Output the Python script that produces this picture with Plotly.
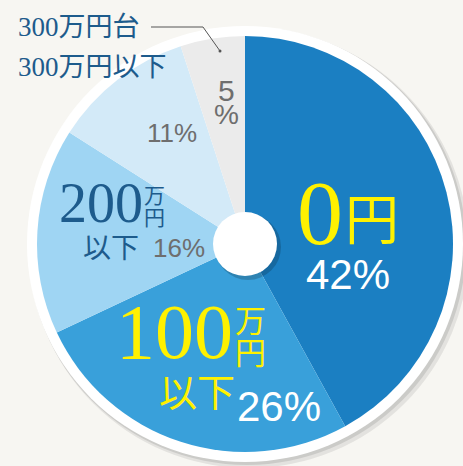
import plotly.graph_objects as go

# ---- data ----
categories = ["0円", "100万円以下", "200万円以下", "300万円以下", "300万円台"]
shares = [42, 26, 16, 11, 5]
pct_labels = ["42%", "26%", "16%", "11%", "5%"]
slice_colors = ["#1b7fc2", "#39a0da", "#9fd5f3", "#d3eaf8", "#ebebeb"]

W, H = 463, 466
CX, CY, R = 245, 244, 208

BG = "#f7f6f2"
YEL = "#fff100"
DBLUE = "#1d5b8c"
GRAY = "#6e6e6e"
SERIF = "Liberation Serif, Noto Sans CJK JP"
CJK = "Noto Sans CJK JP"
SANS = "Liberation Sans, Arial, sans-serif"

fig = go.Figure()

fig.add_trace(go.Pie(
    labels=categories, values=shares, sort=False, direction="clockwise", rotation=0,
    marker=dict(colors=slice_colors, line=dict(width=0)),
    textinfo="none", hoverinfo="skip", showlegend=False,
    domain=dict(x=[(CX - R) / W, (CX + R) / W], y=[(H - CY - R) / H, (H - CY + R) / H]),
))

shapes = []
# outer white ring + soft shadow
for off, col, rr in [(4, "rgba(0,0,0,0.08)", 220), (2, "rgba(0,0,0,0.10)", 219), (0, "white", 218)]:
    shapes.append(dict(type="circle", xref="x", yref="y", layer="below",
                       x0=CX - rr + off, x1=CX + rr + off, y0=CY - rr + off, y1=CY + rr + off,
                       fillcolor=col, line=dict(width=0)))
# centre white disc with shadow
for off, col, rr in [(3, "rgba(0,0,0,0.18)", 33), (0, "white", 32)]:
    shapes.append(dict(type="circle", xref="x", yref="y", layer="above",
                       x0=CX - rr + off, x1=CX + rr + off, y0=CY - rr + off, y1=CY + rr + off,
                       fillcolor=col, line=dict(width=0)))
# leader line for 300万円台
shapes.append(dict(type="path", xref="x", yref="y", layer="above",
                   path="M 151 27 L 203 27 L 220 51", line=dict(color="#555555", width=1)))
shapes.append(dict(type="circle", xref="x", yref="y", layer="above",
                   x0=218.5, x1=221.5, y0=49.5, y1=52.5, fillcolor="#555555", line=dict(width=0)))


def ann(x, y, text, size, color, family, xanchor="center"):
    return dict(x=x, y=y, xref="x", yref="y", text=text, showarrow=False,
                xanchor=xanchor, yanchor="middle",
                font=dict(size=size, color=color, family=family))


annotations = [
    # 0円
    ann(320, 213, "0", 92, YEL, SERIF),
    ann(372, 216, "円", 54, YEL, CJK),
    ann(348, 274, pct_labels[0], 42, "white", SANS),
    # 100万円以下
    ann(174, 331, "100", 78, YEL, SERIF),
    ann(250, 318, "万", 31, YEL, CJK),
    ann(250, 350, "円", 31, YEL, CJK),
    ann(197, 389, "以下", 38, YEL, CJK),
    ann(279, 406, pct_labels[1], 42, "white", SANS),
    # 200万円以下
    ann(101, 203, "200", 56, DBLUE, SERIF),
    ann(154, 194, "万", 21, DBLUE, CJK),
    ann(154, 216, "円", 21, DBLUE, CJK),
    ann(111, 246, "以下", 28, DBLUE, CJK),
    ann(179, 248, pct_labels[2], 26, GRAY, SANS),
    # 300万円以下
    ann(172, 133, pct_labels[3], 26, GRAY, SANS),
    # 300万円台
    ann(226, 90, "5", 30, GRAY, SANS),
    ann(226, 114, "%", 28, GRAY, SANS),
    # side labels
    ann(16, 27, "300万円台", 27, DBLUE, SERIF, xanchor="left"),
    ann(16, 67, "300万円以下", 27, DBLUE, SERIF, xanchor="left"),
]

fig.update_layout(
    width=W, height=H, margin=dict(l=0, r=0, t=0, b=0),
    paper_bgcolor=BG, plot_bgcolor=BG,
    xaxis=dict(range=[0, W], visible=False, fixedrange=True),
    yaxis=dict(range=[H, 0], visible=False, fixedrange=True),
    shapes=shapes, annotations=annotations, showlegend=False,
)

fig.write_html("out.html", config={"displayModeBar": False, "staticPlot": True},
               post_script="document.body.style.margin='0';document.body.style.background='" + BG + "';")
